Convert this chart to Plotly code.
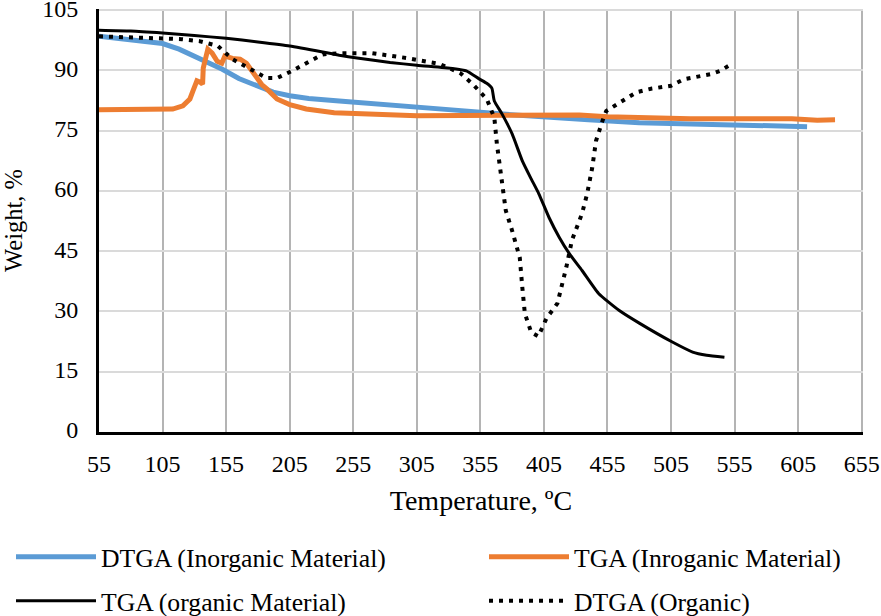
import plotly.graph_objects as go

# DTGA (Inorganic Material)
blue_t = [55, 70, 90, 105, 118, 130, 140, 152, 165, 179, 192, 205, 220, 244, 284, 305, 340, 370, 405, 440, 480, 520, 560, 590, 612]
blue_w = [98.5, 98.0, 97.3, 96.7, 95.3, 93.6, 92.0, 90.3, 88.0, 86.1, 84.6, 83.7, 83.0, 82.4, 81.5, 80.8, 80.0, 79.2, 78.4, 77.7, 77.0, 76.7, 76.3, 76.2, 76.0]

# TGA (Inroganic Material)
orange_t = [55, 80, 113, 121, 126.5, 129, 132, 135, 136.5, 137, 138.5, 140.6, 144, 148, 151.6, 154, 160, 166, 171, 175, 179, 183, 187, 195, 205, 218, 240, 284, 305, 340, 370, 400, 433, 455, 480, 520, 560, 600, 620, 634]
orange_w = [80.2, 80.3, 80.4, 81.2, 82.9, 85.0, 87.4, 87.0, 86.6, 90.6, 93.0, 95.3, 94.3, 92.3, 91.8, 93.6, 93.0, 92.8, 91.8, 90.0, 88.1, 86.5, 85.4, 82.9, 81.5, 80.4, 79.5, 78.9, 78.7, 78.8, 78.9, 78.8, 78.9, 78.5, 78.2, 78.0, 78.0, 78.0, 77.6, 77.7]

# TGA (organic Material)
black_t = [55, 80, 105, 130, 155, 180, 205, 231, 244, 258, 284, 305, 333, 344, 354, 360, 364, 366, 372, 380, 388, 395, 401, 409, 417, 425, 435, 448, 464, 480, 506, 522, 533, 547]
black_w = [100, 99.8, 99.3, 98.7, 98.0, 97.1, 96.1, 94.6, 93.8, 93.1, 92.0, 91.3, 90.5, 89.9, 87.9, 86.8, 85.6, 82.4, 79.2, 74.2, 67.5, 63.0, 59.3, 53.4, 48.5, 44.4, 40.2, 34.5, 30.3, 27.1, 22.4, 19.9, 19.1, 18.6]

# DTGA (Organic)
dot_t = [55, 80, 105, 120, 134, 148.5, 160, 173.6, 187, 195, 207, 221, 231, 244, 270, 297, 323, 339, 349, 360, 366, 368, 370, 372, 375, 380, 386, 388, 390, 395, 400.6, 407, 415.6, 422.6, 427, 435, 439, 443, 446, 451, 454, 466.6, 478, 490, 505, 515, 527, 536.6, 543.6, 550]
dot_w = [98.5, 98.2, 98.0, 97.8, 97.3, 96.1, 92.8, 90.4, 88.1, 88.1, 89.9, 92.3, 94.0, 94.3, 94.3, 93.1, 91.6, 89.4, 86.6, 82.9, 78.2, 71.7, 66.8, 61.8, 55.1, 50.1, 43.4, 36.0, 29.5, 24.8, 23.8, 28.3, 32.0, 41.0, 47.7, 54.4, 59.3, 65.8, 72.5, 77.4, 79.9, 82.4, 84.6, 85.5, 86.2, 87.8, 88.6, 89.1, 89.9, 91.1]

x_ticks = [55, 105, 155, 205, 255, 305, 355, 405, 455, 505, 555, 605, 655]
y_ticks = [0, 15, 30, 45, 60, 75, 90, 105]

FONT = "Liberation Serif"

fig = go.Figure()
fig.add_trace(go.Scatter(x=blue_t, y=blue_w, mode="lines", name="DTGA (Inorganic Material)",
                         line=dict(color="#5B9BD5", width=5), legend="legend"))
fig.add_trace(go.Scatter(x=orange_t, y=orange_w, mode="lines", name="TGA (Inroganic Material)",
                         line=dict(color="#ED7D31", width=5), legend="legend2"))
fig.add_trace(go.Scatter(x=black_t, y=black_w, mode="lines", name="TGA (organic Material)",
                         line=dict(color="#000000", width=3, shape="spline", smoothing=0.5), legend="legend3"))
fig.add_trace(go.Scatter(x=dot_t, y=dot_w, mode="lines", name="DTGA (Organic)",
                         line=dict(color="#000000", width=4, dash="4px,6px"), legend="legend4"))

def leg(xpx, ypx):
    return dict(orientation="h", x=(xpx - 99) / 764, xanchor="left",
                y=(432 - ypx) / 423, yanchor="middle",
                itemwidth=80, font=dict(size=25.7, family=FONT),
                bgcolor="rgba(0,0,0,0)", borderwidth=0)

fig.update_layout(
    width=881, height=616,
    margin=dict(l=99, r=18, t=9, b=184, autoexpand=False),
    paper_bgcolor="white", plot_bgcolor="white",
    font=dict(family=FONT, size=24, color="#000000"),
    xaxis=dict(range=[55, 656], tickmode="array", tickvals=x_ticks, ticktext=[str(v) for v in x_ticks],
               showgrid=True, gridcolor="#B4B4B4", gridwidth=1.5,
               showline=True, linecolor="#000000", linewidth=3,
               ticks="", ticklabelstandoff=8, ticklabeloverflow="allow", automargin=False,
               title=dict(text="Temperature, ºC", font=dict(size=28), standoff=15),
               zeroline=False, tickfont=dict(size=24)),
    yaxis=dict(range=[0, 105.3], tickmode="array", tickvals=y_ticks,
               showgrid=True, gridcolor="#DADADA", gridwidth=1.5,
               showline=True, linecolor="#000000", linewidth=3,
               ticks="", ticklabelstandoff=13, ticklabelshift=-2, ticklabeloverflow="allow", automargin=False,
               title=dict(text="Weight, %", font=dict(size=24.5), standoff=40),
               zeroline=False, tickfont=dict(size=24)),
    legend=leg(11, 557),
    legend2=leg(484, 557),
    legend3=leg(11, 601),
    legend4=leg(484, 601),
    showlegend=True,
)

fig.write_html("out.html", config={"displayModeBar": False},
               post_script="document.body.style.margin='0';")
